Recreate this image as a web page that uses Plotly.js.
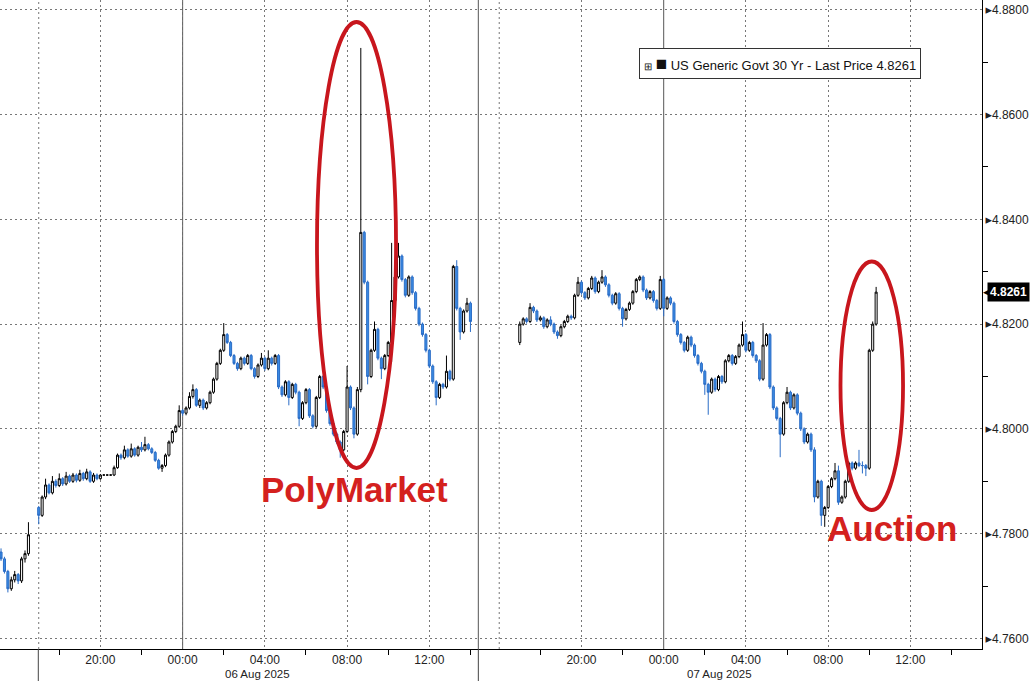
<!DOCTYPE html>
<html>
<head>
<meta charset="utf-8">
<script src="https://cdn.plot.ly/plotly-3.0.1.min.js"></script>
<style>html,body{margin:0;padding:0;background:#fff;}#chart{width:1032px;height:681px;}</style>
</head>
<body>
<div id="chart"></div>
<script>
// ---- DATA ----
// 10-minute bars, three trading stretches
const sessionStart = ["2025-08-05 15:10", "2025-08-05 17:00", "2025-08-06 17:00"];
const sessionBars = [9, 127, 105];

const open = [
  // A
  4.7765,4.7752,4.7728,4.7695,4.7712,4.7722,4.7710,4.7752,4.7762,
  // B
  4.7850,4.7835,4.7870,4.7893,4.7878,4.7900,4.7892,4.7905,4.7895,4.7910,
  4.7900,4.7912,4.7902,4.7915,4.7905,4.7918,4.7900,4.7912,4.7905,4.7912,
  4.7912,4.7912,4.7912,4.7926,4.7950,4.7945,4.7960,4.7948,4.7962,4.7950,
  4.7965,4.7960,4.7970,4.7962,4.7955,4.7940,4.7925,4.7930,4.7950,4.7975,
  4.7995,4.8005,4.8035,4.8030,4.8040,4.8062,4.8075,4.8045,4.8055,4.8040,
  4.8050,4.8070,4.8095,4.8125,4.8150,4.8180,4.8165,4.8140,4.8125,4.8115,
  4.8135,4.8125,4.8140,4.8115,4.8100,4.8122,4.8135,4.8115,4.8135,4.8125,
  4.8140,4.8080,4.8065,4.8090,4.8060,4.8085,4.8070,4.8020,4.8050,4.8075,
  4.8025,4.8005,4.8060,4.8100,4.8080,4.8035,4.8010,4.7990,4.7975,4.7960,
  4.7995,4.8080,4.8040,4.7990,4.8075,4.8375,4.8280,4.8100,4.8150,4.8190,
  4.8135,4.8115,4.8140,4.8165,4.8245,4.8290,4.8330,4.8285,4.8255,4.8290,
  4.8260,4.8230,4.8200,4.8180,4.8150,4.8120,4.8090,4.8060,4.8085,4.8080,
  4.8110,4.8095,4.8310,4.8230,4.8185,4.8225,4.8240,
  // C
  4.8165,4.8200,4.8210,4.8205,4.8232,4.8225,4.8208,4.8212,4.8195,4.8208,
  4.8200,4.8185,4.8178,4.8195,4.8205,4.8215,4.8212,4.8255,4.8280,4.8260,
  4.8250,4.8268,4.8288,4.8262,4.8280,4.8290,4.8275,4.8255,4.8240,4.8258,
  4.8230,4.8210,4.8228,4.8240,4.8262,4.8285,4.8290,4.8265,4.8250,4.8262,
  4.8245,4.8230,4.8285,4.8230,4.8250,4.8240,4.8205,4.8180,4.8165,4.8150,
  4.8175,4.8160,4.8140,4.8125,4.8110,4.8085,4.8070,4.8095,4.8075,4.8100,
  4.8090,4.8130,4.8140,4.8125,4.8138,4.8160,4.8180,4.8150,4.8165,4.8140,
  4.8130,4.8095,4.8160,4.8180,4.8080,4.8040,4.8020,4.7990,4.8050,4.8070,
  4.8040,4.8065,4.8030,4.8000,4.7975,4.7990,4.7960,4.7870,4.7900,4.7835,
  4.7850,4.7890,4.7905,4.7920,4.7860,4.7870,4.7900,4.7935,4.7925,4.7935,
  4.7930,4.7930,4.7925,4.8150,4.8200
];

const high = [
  // A
  4.7772,4.7756,4.7731,4.7718,4.7729,4.7725,4.7756,4.7768,4.7822,
  // B
  4.7853,4.7873,4.7905,4.7896,4.7910,4.7904,4.7915,4.7908,4.7918,4.7913,
  4.7916,4.7915,4.7922,4.7918,4.7924,4.7921,4.7916,4.7915,4.7914,4.7913,
  4.7913,4.7913,4.7930,4.7953,4.7953,4.7968,4.7963,4.7972,4.7965,4.7968,
  4.7975,4.7985,4.7973,4.7965,4.7958,4.7943,4.7933,4.7953,4.7978,4.7998,
  4.8008,4.8045,4.8038,4.8043,4.8070,4.8085,4.8078,4.8058,4.8058,4.8053,
  4.8073,4.8098,4.8128,4.8153,4.8202,4.8183,4.8168,4.8143,4.8128,4.8138,
  4.8138,4.8143,4.8143,4.8118,4.8125,4.8145,4.8138,4.8150,4.8138,4.8143,
  4.8143,4.8083,4.8093,4.8093,4.8088,4.8088,4.8073,4.8053,4.8078,4.8078,
  4.8028,4.8063,4.8103,4.8103,4.8083,4.8038,4.8013,4.7993,4.7978,4.7998,
  4.8120,4.8083,4.8043,4.8080,4.8727,4.8378,4.8283,4.8153,4.8205,4.8193,
  4.8138,4.8143,4.8168,4.8355,4.8293,4.8355,4.8333,4.8288,4.8293,4.8293,
  4.8263,4.8233,4.8203,4.8183,4.8153,4.8123,4.8093,4.8088,4.8088,4.8140,
  4.8113,4.8313,4.8322,4.8233,4.8228,4.8250,4.8243,
  // C
  4.8205,4.8213,4.8213,4.8240,4.8235,4.8228,4.8216,4.8215,4.8211,4.8215,
  4.8203,4.8188,4.8198,4.8208,4.8218,4.8218,4.8258,4.8290,4.8283,4.8263,
  4.8271,4.8292,4.8291,4.8283,4.8303,4.8293,4.8278,4.8258,4.8261,4.8261,
  4.8233,4.8231,4.8243,4.8265,4.8288,4.8293,4.8293,4.8268,4.8265,4.8265,
  4.8248,4.8292,4.8288,4.8253,4.8253,4.8243,4.8208,4.8183,4.8168,4.8178,
  4.8178,4.8163,4.8143,4.8128,4.8113,4.8088,4.8098,4.8098,4.8103,4.8103,
  4.8133,4.8143,4.8143,4.8141,4.8163,4.8205,4.8183,4.8168,4.8168,4.8143,
  4.8133,4.8202,4.8183,4.8183,4.8083,4.8043,4.8023,4.8053,4.8080,4.8073,
  4.8068,4.8068,4.8033,4.8003,4.7993,4.7993,4.7965,4.7903,4.7903,4.7853,
  4.7893,4.7908,4.7935,4.7930,4.7873,4.7903,4.7938,4.7938,4.7938,4.7960,
  4.7938,4.7933,4.8153,4.8205,4.8271
];

const low = [
  // A
  4.7748,4.7724,4.7688,4.7691,4.7707,4.7704,4.7706,4.7745,4.7758,
  // B
  4.7818,4.7832,4.7866,4.7875,4.7875,4.7888,4.7889,4.7891,4.7892,4.7897,
  4.7897,4.7898,4.7899,4.7901,4.7902,4.7897,4.7897,4.7902,4.7903,4.7911,
  4.7911,4.7911,4.7910,4.7924,4.7941,4.7942,4.7945,4.7945,4.7947,4.7947,
  4.7956,4.7957,4.7959,4.7952,4.7937,4.7922,4.7918,4.7927,4.7947,4.7972,
  4.7992,4.8002,4.8025,4.8026,4.8037,4.8058,4.8042,4.8040,4.8036,4.8037,
  4.8047,4.8067,4.8092,4.8122,4.8147,4.8162,4.8137,4.8122,4.8111,4.8112,
  4.8121,4.8122,4.8112,4.8096,4.8097,4.8119,4.8111,4.8112,4.8121,4.8122,
  4.8076,4.8061,4.8062,4.8045,4.8057,4.8066,4.8005,4.8017,4.8047,4.8021,
  4.8001,4.8002,4.8057,4.8076,4.8031,4.8006,4.7986,4.7971,4.7945,4.7957,
  4.7992,4.8036,4.7982,4.7987,4.8070,4.8276,4.8085,4.8097,4.8147,4.8131,
  4.8095,4.8112,4.8137,4.8128,4.8242,4.8287,4.8281,4.8251,4.8252,4.8256,
  4.8226,4.8196,4.8176,4.8146,4.8116,4.8086,4.8045,4.8057,4.8076,4.8077,
  4.8091,4.8092,4.8226,4.8170,4.8182,4.8222,4.8185,
  // C
  4.8160,4.8197,4.8201,4.8202,4.8221,4.8204,4.8205,4.8191,4.8192,4.8196,
  4.8181,4.8172,4.8175,4.8192,4.8202,4.8208,4.8209,4.8252,4.8256,4.8246,
  4.8247,4.8265,4.8258,4.8259,4.8277,4.8271,4.8251,4.8236,4.8237,4.8226,
  4.8195,4.8207,4.8225,4.8237,4.8259,4.8282,4.8261,4.8246,4.8247,4.8241,
  4.8226,4.8227,4.8215,4.8227,4.8236,4.8201,4.8176,4.8161,4.8146,4.8147,
  4.8156,4.8136,4.8121,4.8106,4.8065,4.8027,4.8067,4.8071,4.8072,4.8086,
  4.8087,4.8127,4.8121,4.8122,4.8135,4.8157,4.8146,4.8147,4.8136,4.8126,
  4.8091,4.8092,4.8157,4.8076,4.8036,4.8016,4.7946,4.7987,4.8047,4.8036,
  4.8037,4.8026,4.7996,4.7971,4.7972,4.7956,4.7860,4.7867,4.7815,4.7813,
  4.7847,4.7887,4.7902,4.7855,4.7857,4.7867,4.7897,4.7921,4.7922,4.7927,
  4.7915,4.7910,4.7922,4.8147,4.8197
];

const close = [
  // A
  4.7752,4.7728,4.7695,4.7712,4.7722,4.7710,4.7752,4.7762,4.7798,
  // B
  4.7835,4.7870,4.7893,4.7878,4.7900,4.7892,4.7905,4.7895,4.7910,4.7900,
  4.7912,4.7902,4.7915,4.7905,4.7918,4.7900,4.7912,4.7905,4.7912,4.7912,
  4.7912,4.7912,4.7926,4.7950,4.7945,4.7960,4.7948,4.7962,4.7950,4.7965,
  4.7960,4.7970,4.7962,4.7955,4.7940,4.7925,4.7930,4.7950,4.7975,4.7995,
  4.8005,4.8035,4.8030,4.8040,4.8062,4.8075,4.8045,4.8055,4.8040,4.8050,
  4.8070,4.8095,4.8125,4.8150,4.8180,4.8165,4.8140,4.8125,4.8115,4.8135,
  4.8125,4.8140,4.8115,4.8100,4.8122,4.8135,4.8115,4.8135,4.8125,4.8140,
  4.8080,4.8065,4.8090,4.8060,4.8085,4.8070,4.8020,4.8050,4.8075,4.8025,
  4.8005,4.8060,4.8100,4.8080,4.8035,4.8010,4.7990,4.7975,4.7960,4.7995,
  4.8080,4.8040,4.7990,4.8075,4.8375,4.8280,4.8100,4.8150,4.8190,4.8135,
  4.8115,4.8140,4.8165,4.8245,4.8290,4.8330,4.8285,4.8255,4.8290,4.8260,
  4.8230,4.8200,4.8180,4.8150,4.8120,4.8090,4.8060,4.8085,4.8080,4.8110,
  4.8095,4.8310,4.8230,4.8185,4.8225,4.8240,4.8205,
  // C
  4.8200,4.8210,4.8205,4.8232,4.8225,4.8208,4.8212,4.8195,4.8208,4.8200,
  4.8185,4.8178,4.8195,4.8205,4.8215,4.8212,4.8255,4.8280,4.8260,4.8250,
  4.8268,4.8288,4.8262,4.8280,4.8290,4.8275,4.8255,4.8240,4.8258,4.8230,
  4.8210,4.8228,4.8240,4.8262,4.8285,4.8290,4.8265,4.8250,4.8262,4.8245,
  4.8230,4.8285,4.8230,4.8250,4.8240,4.8205,4.8180,4.8165,4.8150,4.8175,
  4.8160,4.8140,4.8125,4.8110,4.8085,4.8070,4.8095,4.8075,4.8100,4.8090,
  4.8130,4.8140,4.8125,4.8138,4.8160,4.8180,4.8150,4.8165,4.8140,4.8130,
  4.8095,4.8160,4.8180,4.8080,4.8040,4.8020,4.7990,4.8050,4.8070,4.8040,
  4.8065,4.8030,4.8000,4.7975,4.7990,4.7960,4.7870,4.7900,4.7835,4.7850,
  4.7890,4.7905,4.7920,4.7860,4.7870,4.7900,4.7935,4.7925,4.7935,4.7930,
  4.7930,4.7925,4.8150,4.8200,4.8261
];

// axis ticks
const xTickTimes = ["2025-08-05 20:00","2025-08-06 00:00","2025-08-06 04:00","2025-08-06 08:00","2025-08-06 12:00",
                    "2025-08-06 20:00","2025-08-07 00:00","2025-08-07 04:00","2025-08-07 08:00","2025-08-07 12:00"];
const xTickLabels = ["20:00","00:00","04:00","08:00","12:00","20:00","00:00","04:00","08:00","12:00"];
const dateLabels = ["06 Aug 2025", "07 Aug 2025"];
const yTicks = [4.76, 4.78, 4.80, 4.82, 4.84, 4.86, 4.88];
const seriesName = "US Generic Govt 30 Yr - Last Price";

// ---- BUILD ----
const times = [];
sessionStart.forEach((s, j) => {
  const t0 = Date.parse(s.replace(' ', 'T') + ':00Z');
  for (let i = 0; i < sessionBars[j]; i++) {
    times.push(new Date(t0 + i * 600000).toISOString().slice(0, 16).replace('T', ' '));
  }
});
const last = close[close.length - 1];

const FONT = 'Liberation Sans, Arial, sans-serif';
const RED = '#d4211e';
const ERED = '#c8161d';

const trace = {
  type: 'candlestick',
  x: times, open: open, high: high, low: low, close: close,
  increasing: { line: { color: '#000000', width: 1 }, fillcolor: '#ffffff' },
  decreasing: { line: { color: '#2a6cc6', width: 1 }, fillcolor: '#3a8ce4' },
  whiskerwidth: 0,
  hoverinfo: 'skip'
};

const gridDash = '2px,3px';
const shapes = [
  { type: 'line', xref: 'x', yref: 'paper', x0: '2025-08-06 00:00', x1: '2025-08-06 00:00', y0: 0, y1: 1, line: { color: '#555', width: 1 }, layer: 'below' },
  { type: 'line', xref: 'x', yref: 'paper', x0: '2025-08-07 00:00', x1: '2025-08-07 00:00', y0: 0, y1: 1, line: { color: '#555', width: 1 }, layer: 'below' },
  { type: 'line', xref: 'x', yref: 'paper', x0: '2025-08-05 17:00', x1: '2025-08-05 17:00', y0: 0, y1: 1, line: { color: '#777', width: 1, dash: gridDash }, layer: 'below' },
  { type: 'line', xref: 'x', yref: 'paper', x0: '2025-08-06 16:00', x1: '2025-08-06 16:00', y0: 0, y1: 1, line: { color: '#777', width: 1, dash: gridDash }, layer: 'below' },
  { type: 'line', xref: 'x', yref: 'paper', x0: '2025-08-06 14:23', x1: '2025-08-06 14:23', y0: 0, y1: 1, line: { color: '#555', width: 1 }, layer: 'below' },
  { type: 'line', xref: 'paper', yref: 'paper', x0: 0.039, x1: 0.039, y0: -0.05, y1: 0, line: { color: '#444', width: 1 } },
  { type: 'line', xref: 'paper', yref: 'paper', x0: 0.4871, x1: 0.4871, y0: -0.05, y1: 0, line: { color: '#444', width: 1 } },
  { type: 'circle', xref: 'paper', yref: 'paper', x0: 0.3228, x1: 0.4033, y0: 0.2789, y1: 0.9661, line: { color: ERED, width: 3.8 }, layer: 'above' },
  { type: 'circle', xref: 'paper', yref: 'paper', x0: 0.8559, x1: 0.9196, y0: 0.2142, y1: 0.5971, line: { color: ERED, width: 3.8 }, layer: 'above' }
];

const annotations = [
  { xref: 'paper', yref: 'paper', x: 0.2627, y: -0.0385, text: dateLabels[0], showarrow: false, xanchor: 'center', yanchor: 'middle', font: { family: FONT, size: 11.5, color: '#222' } },
  { xref: 'paper', yref: 'paper', x: 0.7322, y: -0.0385, text: dateLabels[1], showarrow: false, xanchor: 'center', yanchor: 'middle', font: { family: FONT, size: 11.5, color: '#222' } },
  { xref: 'paper', yref: 'paper', x: 0.3615, y: 0.245, text: '<b>PolyMarket</b>', showarrow: false, xanchor: 'center', yanchor: 'middle', font: { family: FONT, size: 35, color: RED } },
  { xref: 'paper', yref: 'paper', x: 0.9084, y: 0.1864, text: '<b>Auction</b>', showarrow: false, xanchor: 'center', yanchor: 'middle', font: { family: FONT, size: 35, color: RED } },
  { xref: 'paper', yref: 'paper', x: 0.7938, y: 0.9019, xanchor: 'center', yanchor: 'middle', showarrow: false,
    text: '<span style="font-size:10px">⊞</span> <span style="font-size:19px">■</span> ' + seriesName + ' ' + last.toFixed(4),
    font: { family: FONT, size: 13, color: '#111' }, bgcolor: '#ffffff', bordercolor: '#333', borderwidth: 1, borderpad: 4 },
  { xref: 'paper', yref: 'y', x: 1, y: last, xanchor: 'left', yanchor: 'middle', xshift: -1, showarrow: false,
    text: '◀', font: { family: 'DejaVu Sans', size: 9, color: '#000' } },
  { xref: 'paper', yref: 'y', x: 1, y: last, xanchor: 'left', yanchor: 'middle', xshift: 5, showarrow: false,
    text: '<b>' + last.toFixed(4) + '</b>', font: { family: FONT, size: 12, color: '#fff' }, bgcolor: '#000', borderpad: 2 }
];

const layout = {
  width: 1032, height: 681,
  margin: { l: 0, r: 50, t: 0, b: 32, pad: 0 },
  paper_bgcolor: '#ffffff', plot_bgcolor: '#ffffff',
  showlegend: false,
  boxgap: 0.15,
  xaxis: {
    type: 'date',
    range: ['2025-08-05 15:07', '2025-08-07 15:29'],
    rangeslider: { visible: false },
    rangebreaks: [{ bounds: ['2025-08-06 14:24', '2025-08-06 15:00'] }],
    tickmode: 'array', tickvals: xTickTimes, ticktext: xTickLabels,
    ticks: '',
    showgrid: true, gridcolor: '#777', griddash: gridDash, gridwidth: 1,
    showline: true, linecolor: '#000', linewidth: 1, zeroline: false,
    tickfont: { family: FONT, size: 12, color: '#222' },
    minor: { tickmode: 'linear', tick0: '2025-08-05 18:00', dtick: 14400000, ticks: 'outside', ticklen: 5, tickcolor: '#000', showgrid: false },
    fixedrange: true
  },
  yaxis: {
    side: 'right',
    range: [4.7580, 4.88185],
    tickmode: 'array', tickvals: yTicks,
    ticktext: yTicks.map(v => '<span style="font-size:13px;font-family:DejaVu Sans">▸</span>' + v.toFixed(4)),
    ticks: '',
    showgrid: true, gridcolor: '#777', griddash: gridDash, gridwidth: 1,
    showline: true, linecolor: '#000', linewidth: 1, zeroline: false,
    tickfont: { family: FONT, size: 12, color: '#222' },
    minor: { tickmode: 'linear', tick0: 4.77, dtick: 0.02, ticks: 'outside', ticklen: 5, tickcolor: '#000', showgrid: false },
    fixedrange: true
  },
  shapes: shapes,
  annotations: annotations
};

Plotly.newPlot('chart', [trace], layout, { staticPlot: true, displayModeBar: false });
</script>
</body>
</html>
